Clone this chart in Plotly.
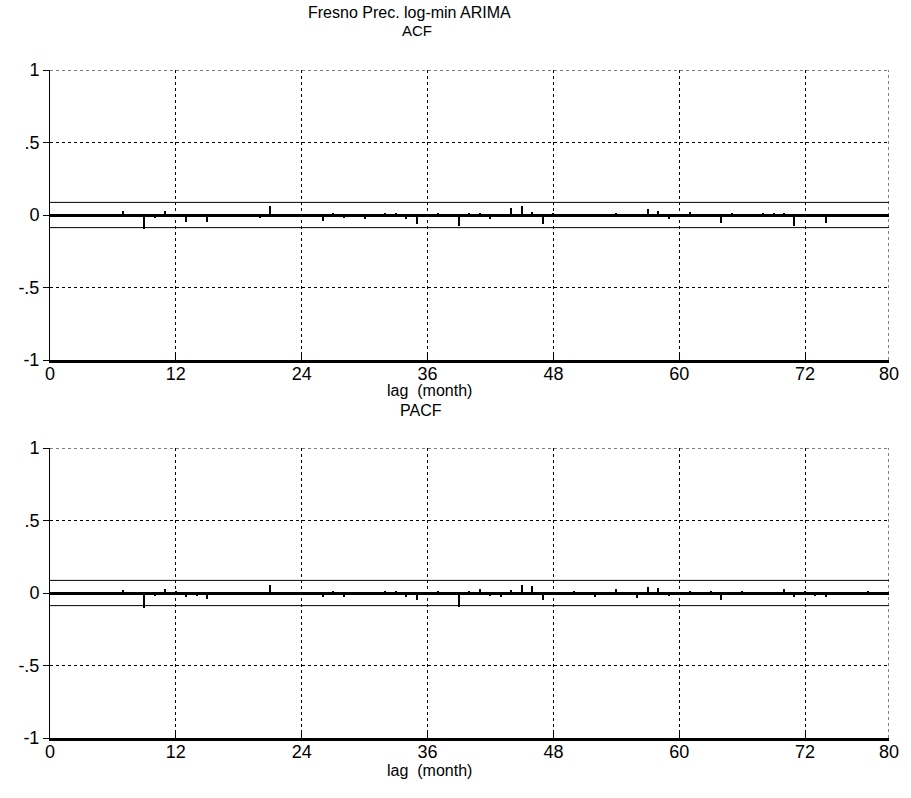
import plotly.graph_objects as go

# Residual autocorrelations of the Fresno precipitation ARIMA model (lags 1..80 months)
lags = list(range(1, 81))

acf_values = [
    0.005, -0.005, 0.004, -0.006, 0.005, -0.004, 0.025, -0.005, -0.095, -0.020,
    0.025, -0.008, -0.050, -0.006, -0.046, 0.005, -0.005, 0.006, -0.008, -0.020,
    0.064, 0.005, -0.010, 0.005, -0.010, -0.044, 0.010, -0.020, 0.005, -0.025,
    0.006, 0.010, 0.012, -0.025, -0.060, 0.006, 0.010, 0.005, -0.075, 0.010,
    0.015, -0.030, 0.006, 0.048, 0.063, 0.020, -0.063, 0.008, -0.005, 0.005,
    -0.006, -0.015, -0.010, 0.010, -0.015, -0.015, 0.040, 0.030, -0.025, 0.005,
    0.020, -0.005, 0.005, -0.055, 0.010, -0.005, 0.005, 0.010, 0.010, 0.010,
    -0.074, 0.005, -0.006, -0.055, 0.005, -0.005, 0.004, -0.005, 0.005, 0.006,
]

pacf_values = [
    0.005, -0.005, 0.004, -0.006, 0.005, -0.004, 0.023, -0.005, -0.100, -0.020,
    0.025, 0.010, -0.030, -0.020, -0.040, 0.005, -0.005, 0.005, -0.010, -0.006,
    0.058, 0.005, -0.015, 0.006, -0.010, -0.030, 0.010, -0.025, 0.005, -0.015,
    0.005, 0.010, 0.010, -0.025, -0.050, 0.005, 0.008, -0.005, -0.095, 0.010,
    0.025, -0.020, -0.025, 0.020, 0.055, 0.050, -0.050, 0.005, -0.005, 0.010,
    -0.005, -0.025, 0.005, 0.025, -0.010, -0.035, 0.040, 0.035, -0.020, 0.005,
    0.015, -0.005, 0.015, -0.045, 0.005, 0.015, -0.005, 0.006, -0.005, 0.030,
    -0.030, 0.008, -0.020, -0.025, 0.005, -0.005, 0.004, 0.010, -0.005, 0.006,
]

# Approximate 95% significance bounds
conf_bound = 0.087
band_x = [0, 80]

x_tickvals = [0, 12, 24, 36, 48, 60, 72, 80]
x_ticktext = ["0", "12", "24", "36", "48", "60", "72", "80"]
y_tickvals = [-1, -0.5, 0, 0.5, 1]
y_ticktext = ["-1", "-.5", "0", ".5", "1"]

FONT = "Liberation Sans, Arial, sans-serif"

W, H = 911, 798
ML, MR, MT, MB = 50, 16, 70, 60
plot_w = W - ML - MR
plot_h = H - MT - MB


def ypaper(py):
    return (H - MB - py) / plot_h


def xpaper(px):
    return (px - ML) / plot_w


fig = go.Figure()

panels = [
    ("x", "y", acf_values),
    ("x2", "y2", pacf_values),
]
for xa, ya, vals in panels:
    fig.add_trace(go.Bar(x=lags, y=vals, width=0.12, marker=dict(color="black", line=dict(width=0)),
                         xaxis=xa, yaxis=ya, showlegend=False))
    for b in (conf_bound, -conf_bound):
        fig.add_trace(go.Scatter(x=band_x, y=[b, b], mode="lines",
                                 line=dict(color="black", width=1),
                                 xaxis=xa, yaxis=ya, showlegend=False, hoverinfo="skip"))

acf_dom = [ypaper(360), 1.0]
pacf_dom = [0.0, ypaper(448)]

xcommon = dict(range=[0, 80], tickvals=x_tickvals, ticktext=x_ticktext,
               showgrid=True, gridcolor="black", griddash="dot", gridwidth=1,
               showline=True, linecolor="black", linewidth=3,
               ticks="inside", ticklen=5, tickcolor="black", tickwidth=1,
               tickfont=dict(family=FONT, size=18, color="black"),
               ticklabelstandoff=-5,
               zeroline=False)
ycommon = dict(range=[-1, 1], tickvals=y_tickvals, ticktext=y_ticktext,
               showgrid=True, gridcolor="black", griddash="dot", gridwidth=1,
               showline=True, linecolor="black", linewidth=1,
               ticks="outside", ticklen=6, tickcolor="black", tickwidth=1,
               tickfont=dict(family=FONT, size=18, color="black"),
               zeroline=True, zerolinecolor="black", zerolinewidth=3)

fig.update_layout(
    width=W, height=H,
    margin=dict(l=ML, r=MR, t=MT, b=MB),
    paper_bgcolor="white", plot_bgcolor="white",
    bargap=0,
    xaxis=dict(**xcommon, anchor="y", domain=[0, 1]),
    yaxis=dict(**ycommon, anchor="x", domain=acf_dom),
    xaxis2=dict(**xcommon, anchor="y2", domain=[0, 1]),
    yaxis2=dict(**ycommon, anchor="x2", domain=pacf_dom),
)

# dotted frame on the top and right edges of each panel
for xa, ya in (("x", "y"), ("x2", "y2")):
    fig.add_shape(type="line", xref=xa, yref=ya, x0=0, x1=80, y0=1, y1=1,
                  line=dict(color="black", width=1, dash="dot"))
    fig.add_shape(type="line", xref=xa, yref=ya, x0=80, x1=80, y0=-1, y1=1,
                  line=dict(color="black", width=1, dash="dot"))

labels = [
    ("Fresno Prec. log-min ARIMA", 412, 12, 16),
    ("ACF", 420, 31, 15),
    ("lag  (month)", 432, 390, 16),
    ("PACF", 424, 410, 16),
    ("lag  (month)", 432, 770, 16),
]
for text, px, py, fs in labels:
    fig.add_annotation(text=text, xref="paper", yref="paper",
                       x=xpaper(px), y=ypaper(py), xanchor="center", yanchor="middle",
                       showarrow=False, font=dict(family=FONT, size=fs, color="black"))

fig.write_html("out.html")
